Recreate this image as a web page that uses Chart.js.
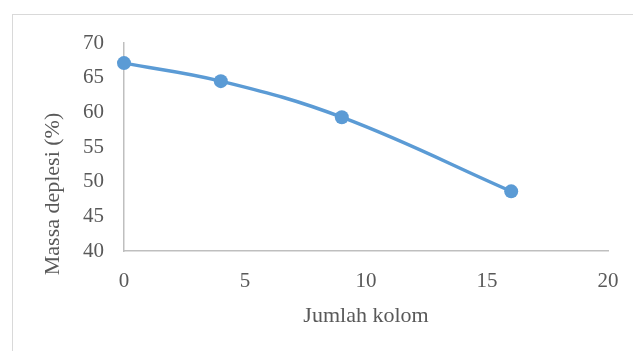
<!DOCTYPE html>
<html>
<head>
<meta charset="utf-8">
<script src="https://cdn.jsdelivr.net/npm/chart.js@4/dist/chart.umd.min.js"></script>
<style>
  html, body { margin: 0; padding: 0; background: #ffffff; }
  #wrap { width: 633px; height: 351px; }
</style>
</head>
<body>
<div id="wrap"><canvas id="c" width="633" height="351"></canvas></div>
<script>
// Number of columns vs. depletion mass
const kolom = [0, 4, 9, 16];
const massaDeplesi = [67.1, 64.5, 59.3, 48.6];
const xTicks = [0, 5, 10, 15, 20];
const yTicks = [40, 45, 50, 55, 60, 65, 70];
const xTitle = 'Jumlah kolom';
const yTitle = 'Massa deplesi (%)';

const FONT = '"Liberation Serif", "Times New Roman", serif';
const TEXT = '#595959';
const AXIS = '#BFBFBF';
const BLUE = '#5B9BD5';

const points = kolom.map((x, i) => ({ x: x, y: massaDeplesi[i] }));

// Light frame around the chart plus the vertical axis title
const framePlugin = {
  id: 'frame',
  beforeDraw(chart) {
    const ctx = chart.ctx;
    ctx.save();
    ctx.strokeStyle = '#D9D9D9';
    ctx.lineWidth = 1;
    ctx.strokeRect(12.5, 14.5, 700, 400);
    ctx.restore();
  },
  afterDraw(chart) {
    const ctx = chart.ctx;
    ctx.save();
    ctx.translate(53, 194);
    ctx.rotate(-Math.PI / 2);
    ctx.fillStyle = TEXT;
    ctx.font = '22px ' + FONT;
    ctx.textAlign = 'center';
    ctx.textBaseline = 'middle';
    ctx.fillText(yTitle, 0, 0);
    ctx.restore();
  }
};

new Chart(document.getElementById('c'), {
  type: 'scatter',
  data: {
    datasets: [{
      data: points,
      showLine: true,
      borderColor: BLUE,
      backgroundColor: BLUE,
      borderWidth: 3.5,
      pointRadius: 7,
      pointHoverRadius: 7,
      pointBorderWidth: 0,
      tension: 0.4,
      clip: false
    }]
  },
  options: {
    responsive: false,
    animation: false,
    devicePixelRatio: 1,
    layout: { padding: { left: 0, right: 25, top: 43, bottom: 0 } },
    plugins: { legend: { display: false }, tooltip: { enabled: false } },
    scales: {
      x: {
        type: 'linear',
        min: xTicks[0],
        max: xTicks[xTicks.length - 1],
        afterBuildTicks(scale) { scale.ticks = xTicks.map(v => ({ value: v })); },
        afterFit(scale) { scale.height = 100; scale.paddingRight = 0; },
        grid: { display: false, drawTicks: false },
        border: { display: true, color: AXIS, width: 1.5 },
        ticks: { color: TEXT, font: { family: FONT, size: 21 }, padding: 18, maxRotation: 0 },
        title: {
          display: true,
          text: xTitle,
          color: TEXT,
          font: { family: FONT, size: 22 },
          padding: { top: 0, bottom: 22 }
        }
      },
      y: {
        type: 'linear',
        min: yTicks[0],
        max: yTicks[yTicks.length - 1],
        afterBuildTicks(scale) { scale.ticks = yTicks.map(v => ({ value: v })); },
        afterFit(scale) { scale.width = 124; },
        grid: { display: false, drawTicks: false },
        border: { display: true, color: AXIS, width: 1.5 },
        ticks: { color: TEXT, font: { family: FONT, size: 21 }, padding: 20 }
      }
    }
  },
  plugins: [framePlugin]
});
</script>
</body>
</html>
